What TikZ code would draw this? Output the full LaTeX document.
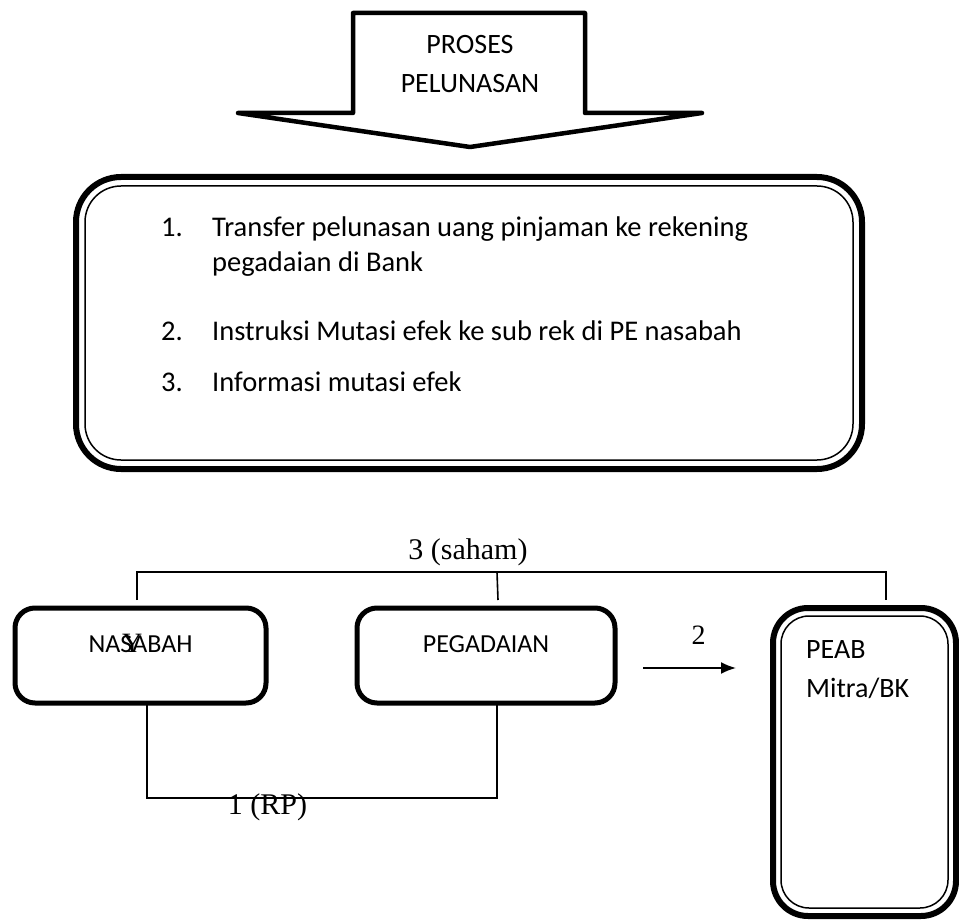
\documentclass[tikz,border=0pt]{standalone}
\usepackage{fontspec}
\setmainfont{Carlito}
\newfontfamily\timesfont{Liberation Serif}
\usepackage{tikz}
\usetikzlibrary{
  arrows.meta,
  positioning,
  calc
}
\newcommand{\num}[1]{\makebox[51pt][l]{#1}}

\begin{document}
\begin{tikzpicture}[x=1pt,y=-1pt,
  body/.style ={font=\fontsize{26}{35}\selectfont},
  list/.style ={font=\fontsize{28.5}{35}\selectfont},
  box/.style  ={draw,line width=5pt,rounded corners=20pt,outer sep=0pt,
                minimum height=95pt,body,text height=19pt,text depth=26pt},
  panel/.style={draw,line width=6pt,rounded corners=#1,outer sep=0pt},
  liner/.style={draw,line width=1.5pt,rounded corners=#1},
  item/.style ={list,anchor=base west,align=left,inner sep=0pt},
  lbl/.style  ={font=\timesfont\fontsize{30}{30}\selectfont,anchor=base,inner sep=0pt},
  link/.style ={line width=1.6pt},
  arr/.style  ={-{Latex[length=15pt,width=12pt]},line width=1.8pt},
]
\useasboundingbox (0,0) rectangle (959,920);

\draw[line width=4.5pt,line join=round,fill=white]
  (353,13) -- (585,13) -- (585,113) -- (702,113) -- (470,147)
  -- (238,113) -- (353,113) -- cycle;
\node[align=center,font=\fontsize{28}{39}\selectfont] (title) at (470,64)
  {PROSES\\PELUNASAN};

\node[panel=45pt,minimum width=786pt,minimum height=292pt] (steps) at (469,323) {};
\draw[liner=36pt] ([shift={(9pt,-9pt)}]steps.north west)
  rectangle ([shift={(-9pt,9pt)}]steps.south east);
\node[item] (step1) at (161,272) {\num{1.}Transfer pelunasan uang pinjaman ke rekening\\
  \hspace*{51pt}pegadaian di Bank};
\node[item] (step2) at (161,341) {\num{2.}Instruksi Mutasi efek ke sub rek di PE nasabah};
\node[item] (step3) at (161,391) {\num{3.}Informasi mutasi efek};

\node[box,minimum width=251pt] (nasabah) at (140.5,655.5)
  {NAS\makebox[0pt]{\timesfont\fontsize{28}{28}\selectfont Y}ABAH};
\node[box,minimum width=258pt] (pegadaian) at (486,655.5) {PEGADAIAN};
\node[panel=35pt,minimum width=183pt,minimum height=308pt] (peab) at (864.5,762) {};
\draw[liner=28pt] ([shift={(8pt,-8pt)}]peab.north west)
  rectangle ([shift={(-8pt,8pt)}]peab.south east);
\node[item,font=\fontsize{28}{39}\selectfont] (mitra) at (806,697) {PEAB\\Mitra/BK};

\draw[link] ([shift={(-3.5pt,8pt)}]nasabah.north) -- ++(0,-28)
  -| ([shift={(21.5pt,8pt)}]peab.north);
\draw[link] ([shift={(12pt,8pt)}]pegadaian.north) -- ++(-1,-28);
\node[lbl] (saham) at (468,559) {3 (saham)};

\draw[link] ([xshift=6.5pt]nasabah.south) -- ++(0,95) -| ([xshift=11pt]pegadaian.south);
\node[lbl] (rp) at (267.5,814) {1 (RP)};

\draw[arr] ([shift={(28pt,-12.5pt)}]pegadaian.east) -- ++(93,0);
\node[lbl,font=\timesfont\fontsize{28}{28}\selectfont] (two) at (698.5,644) {2};
\end{tikzpicture}
\end{document}
